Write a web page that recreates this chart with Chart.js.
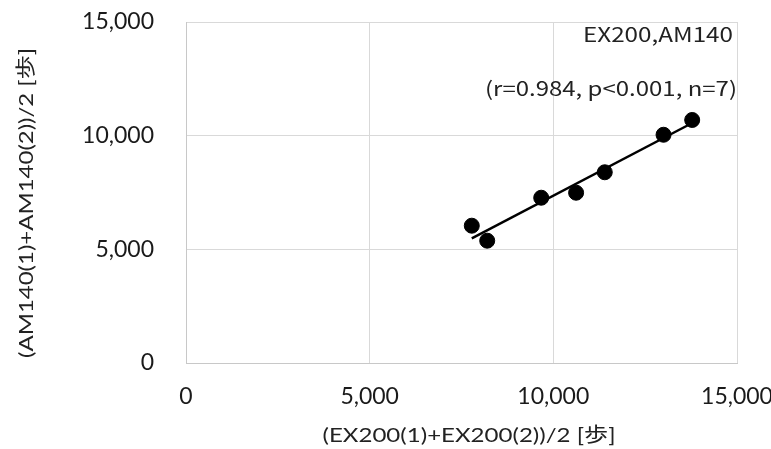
<!DOCTYPE html>
<html><head><meta charset="utf-8">
<script src="https://cdn.jsdelivr.net/npm/chart.js@4"></script>
<style>html,body{margin:0;padding:0;background:#fff}#wrap{width:771px;height:449px}</style>
</head><body><div id="wrap"><canvas id="c" width="771" height="449"></canvas></div>
<script>
const exSteps = [7780, 8200, 9670, 10620, 11400, 13000, 13780];
const amSteps = [6040, 5380, 7270, 7490, 8390, 10040, 10690];
const axisTicks = [0, 5000, 10000, 15000];
const titleText = 'EX200,AM140';
const statText = '(r=0.984, p<0.001, n=7)';
const xTitle = '(EX200(1)+EX200(2))/2 [歩]';
const yTitle = '(AM140(1)+AM140(2))/2 [歩]';

// least-squares trendline through the data (as Excel does)
const n = exSteps.length;
const mx = exSteps.reduce((a,b)=>a+b,0)/n, my = amSteps.reduce((a,b)=>a+b,0)/n;
let sxy=0, sxx=0;
for(let i=0;i<n;i++){sxy+=(exSteps[i]-mx)*(amSteps[i]-my);sxx+=(exSteps[i]-mx)**2;}
const slope=sxy/sxx, icpt=my-slope*mx;
const xmin=Math.min(...exSteps), xmax=Math.max(...exSteps);
const trend=[{x:xmin,y:slope*xmin+icpt},{x:xmax,y:slope*xmax+icpt}];

const FONT = "Lato, 'Noto Sans CJK JP', sans-serif";
function fitText(ctx, text, cx, cy, w, rot){
  const m = ctx.measureText(text).width;
  ctx.save();
  ctx.translate(cx, cy);
  if(rot) ctx.rotate(rot);
  ctx.scale(w/m, 1);
  ctx.fillText(text, 0, 0);
  ctx.restore();
}
const annot = {
  id:'annot',
  afterDraw(chart){
    const ctx=chart.ctx;
    ctx.save();
    ctx.fillStyle='#222';
    ctx.textAlign='center';ctx.textBaseline='middle';
    ctx.font="20px 'Noto Sans CJK JP', sans-serif";
    fitText(ctx,titleText,658,34,150);
    fitText(ctx,statText,611,88,252);
    ctx.font="20px " + FONT;
    fitText(ctx,xTitle,469,436,293);
    fitText(ctx,yTitle,27,203,310,-Math.PI/2);
    ctx.restore();
  }
};
function noPad(s){s.paddingTop=0;s.paddingBottom=0;s.paddingLeft=0;s.paddingRight=0;}

new Chart(document.getElementById('c'),{
  type:'scatter',
  data:{datasets:[
    {type:'line',data:trend,borderColor:'#000',borderWidth:2.5,pointRadius:0,fill:false,order:2},
    {data:exSteps.map((x,i)=>({x:x,y:amSteps[i]})),backgroundColor:'#000',borderColor:'#000',pointRadius:7.5,pointHoverRadius:7.5,order:1}
  ]},
  options:{
    responsive:false,animation:false,
    layout:{padding:{top:22,right:34,left:0,bottom:0}},
    plugins:{legend:{display:false},tooltip:{enabled:false}},
    scales:{
      x:{type:'linear',min:0,max:15000,
        afterBuildTicks(s){s.ticks=axisTicks.map(v=>({value:v}));},
        afterFit(s){s.height=86;noPad(s);},
        grid:{color:'#d9d9d9',lineWidth:1,drawTicks:false},
        border:{color:'#c8c8c8',width:1},
        ticks:{padding:20,maxRotation:0,color:'#1a1a1a',font:{family:FONT,size:23},callback:v=>v.toLocaleString('en-US')},
        title:{display:false}
      },
      y:{type:'linear',min:0,max:15000,
        afterBuildTicks(s){s.ticks=axisTicks.map(v=>({value:v}));},
        afterFit(s){s.width=186;noPad(s);},
        grid:{color:'#d9d9d9',lineWidth:1,drawTicks:false},
        border:{color:'#c8c8c8',width:1},
        ticks:{padding:32,color:'#1a1a1a',font:{family:FONT,size:23},callback:v=>v.toLocaleString('en-US')},
        title:{display:false}
      }
    }
  },
  plugins:[annot]
});
</script></body></html>
